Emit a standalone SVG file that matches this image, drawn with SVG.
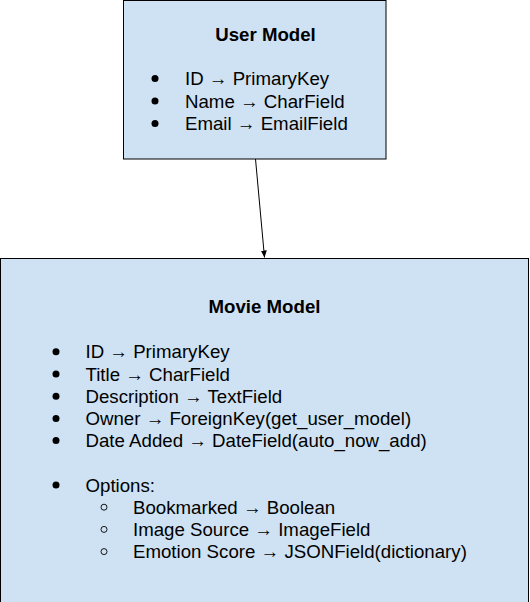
<svg xmlns="http://www.w3.org/2000/svg" width="530" height="602" viewBox="0 0 530 602">
<style>
.box{fill:#cfe2f3;stroke:#000;stroke-width:1}
.t{font-family:"Liberation Sans",Arial,sans-serif;font-size:18.67px;fill:#000}
.h{font-weight:bold;text-anchor:middle}
.b{fill:#000}
.s{fill:none;stroke:#000;stroke-width:0.9}
.c{stroke:#000;stroke-width:1;fill:none}
</style>
<defs>
<marker id="ah" markerWidth="8" markerHeight="8" refX="7" refY="4" orient="auto" markerUnits="userSpaceOnUse">
<path d="M0,1 L7,4 L0,7 Z" fill="#000"/>
</marker>
</defs>
<g id="user-model">
<rect class="box" x="123.5" y="0.5" width="262.5" height="158.5"/>
<text class="t h" x="265.5" y="40.7">User Model</text>
<circle class="b" cx="155" cy="78.5" r="3.5"/>
<circle class="b" cx="155" cy="101" r="3.5"/>
<circle class="b" cx="155" cy="123.5" r="3.5"/>
<text class="t" x="185" y="85">ID → PrimaryKey</text>
<text class="t" x="185" y="107.5">Name → CharField</text>
<text class="t" x="185" y="130">Email → EmailField</text>
</g>
<g id="movie-model">
<rect class="box" x="0.5" y="258.5" width="528" height="350"/>
<text class="t h" x="264.5" y="312.5">Movie Model</text>
<circle class="b" cx="56" cy="351.8" r="3.5"/>
<circle class="b" cx="56" cy="374" r="3.5"/>
<circle class="b" cx="56" cy="396.2" r="3.5"/>
<circle class="b" cx="56" cy="418.4" r="3.5"/>
<circle class="b" cx="56" cy="440.6" r="3.5"/>
<circle class="b" cx="56" cy="485" r="3.5"/>
<circle class="s" cx="104" cy="507.2" r="3"/>
<circle class="s" cx="104" cy="529.4" r="3"/>
<circle class="s" cx="104" cy="551.6" r="3"/>
<text class="t" x="85.5" y="358.3">ID → PrimaryKey</text>
<text class="t" x="85.5" y="380.5">Title → CharField</text>
<text class="t" x="85.5" y="402.7">Description → TextField</text>
<text class="t" x="85.5" y="424.9">Owner → ForeignKey(get_user_model)</text>
<text class="t" x="85.5" y="447.1">Date Added → DateField(auto_now_add)</text>
<text class="t" x="85.5" y="491.5">Options:</text>
<text class="t" x="133" y="513.7">Bookmarked → Boolean</text>
<text class="t" x="133" y="535.9">Image Source → ImageField</text>
<text class="t" x="133" y="558.1">Emotion Score → JSONField(dictionary)</text>
</g>
<g id="connectors">
<line class="c" x1="255.5" y1="159" x2="264.5" y2="257.5" marker-end="url(#ah)"/>
</g>
</svg>
